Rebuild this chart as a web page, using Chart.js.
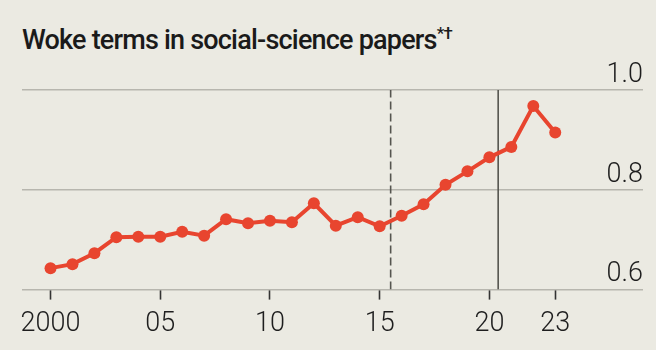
<!DOCTYPE html>
<html>
<head>
<meta charset="utf-8">
<script src="https://cdn.jsdelivr.net/npm/chart.js@4.4.1/dist/chart.umd.min.js"></script>
<style>
    html, body { margin: 0; padding: 0; background: #ebeae2; }
    #wrap { position: relative; width: 656px; height: 350px; }
    #title {
        position: absolute; left: 22px; top: 24px;
        font-family: Roboto, "Liberation Sans", sans-serif;
        font-weight: 500; font-size: 27px; letter-spacing: -0.8px;
        color: #1a1a1a; white-space: nowrap;
    }
    #title sup { font-size: 17px; vertical-align: 10px; line-height: 0; }
    canvas { position: absolute; left: 0; top: 0; }
</style>
</head>
<body>
<div id="wrap">
    <div id="title">Woke terms in social-science papers<sup>*†</sup></div>
    <canvas id="chart" width="656" height="350"></canvas>
</div>
<script>
// Yıllar ve oranlar
const years = [2000, 2001, 2002, 2003, 2004, 2005, 2006, 2007, 2008, 2009, 2010, 2011,
    2012, 2013, 2014, 2015, 2016, 2017, 2018, 2019, 2020, 2021, 2022, 2023];
const values = [0.643, 0.651, 0.673, 0.705, 0.706, 0.706, 0.716, 0.708, 0.741, 0.733, 0.738, 0.735,
    0.773, 0.728, 0.745, 0.727, 0.748, 0.771, 0.810, 0.837, 0.865, 0.886, 0.968, 0.915];

const xTicks = [2000, 2005, 2010, 2015, 2020, 2023];
const yTicks = [0.6, 0.8, 1.0];

// dikey işaret çizgileri (kesikli / düz)
const dashedYear = 2015.5;
const solidYear = 2020.4;

const RED = '#e8452f';
const GRID = '#b7b6ae';
const TEXT = '#1e1e1e';

const vline = (year, dash, order) => ({
    data: [{ x: year, y: 0.6 }, { x: year, y: 1.0 }],
    borderColor: '#55554f',
    borderWidth: 1.6,
    borderDash: dash,
    pointRadius: 0,
    order: order
});

new Chart(document.getElementById('chart'), {
    type: 'line',
    data: {
        datasets: [
            {
                data: years.map((y, i) => ({ x: y, y: values[i] })),
                borderColor: RED,
                backgroundColor: RED,
                borderWidth: 4,
                pointRadius: 6,
                pointBorderWidth: 0,
                tension: 0,
                order: 0
            },
            vline(dashedYear, [8, 4], 1),
            vline(solidYear, [], 1)
        ]
    },
    options: {
        responsive: false,
        animation: false,
        layout: { padding: { left: 22, right: 13, top: 90, bottom: 2 } },
        plugins: { legend: { display: false }, tooltip: { enabled: false } },
        scales: {
            x: {
                type: 'linear',
                min: 1998.7,
                max: 2027,
                afterBuildTicks: (axis) => { axis.ticks = xTicks.map(v => ({ value: v })); },
                grid: {
                    drawOnChartArea: false,
                    drawTicks: true,
                    tickLength: 10,
                    tickColor: '#333',
                    tickWidth: 1.6
                },
                border: { display: false },
                ticks: {
                    color: TEXT,
                    font: { family: 'Roboto', size: 27, weight: 300 },
                    padding: 8,
                    maxRotation: 0,
                    callback: (v) => v === 2000 ? '2000' : String(v).slice(2)
                }
            },
            y: {
                position: 'right',
                min: 0.6,
                max: 1.0,
                afterBuildTicks: (axis) => { axis.ticks = yTicks.map(v => ({ value: v })); },
                grid: { color: GRID, lineWidth: 1.6, drawTicks: false },
                border: { display: false },
                ticks: {
                    mirror: true,
                    padding: 0,
                    labelOffset: -15,
                    color: TEXT,
                    font: { family: 'Roboto', size: 27, weight: 300 },
                    callback: (v) => v.toFixed(1)
                }
            }
        }
    }
});
</script>
</body>
</html>
